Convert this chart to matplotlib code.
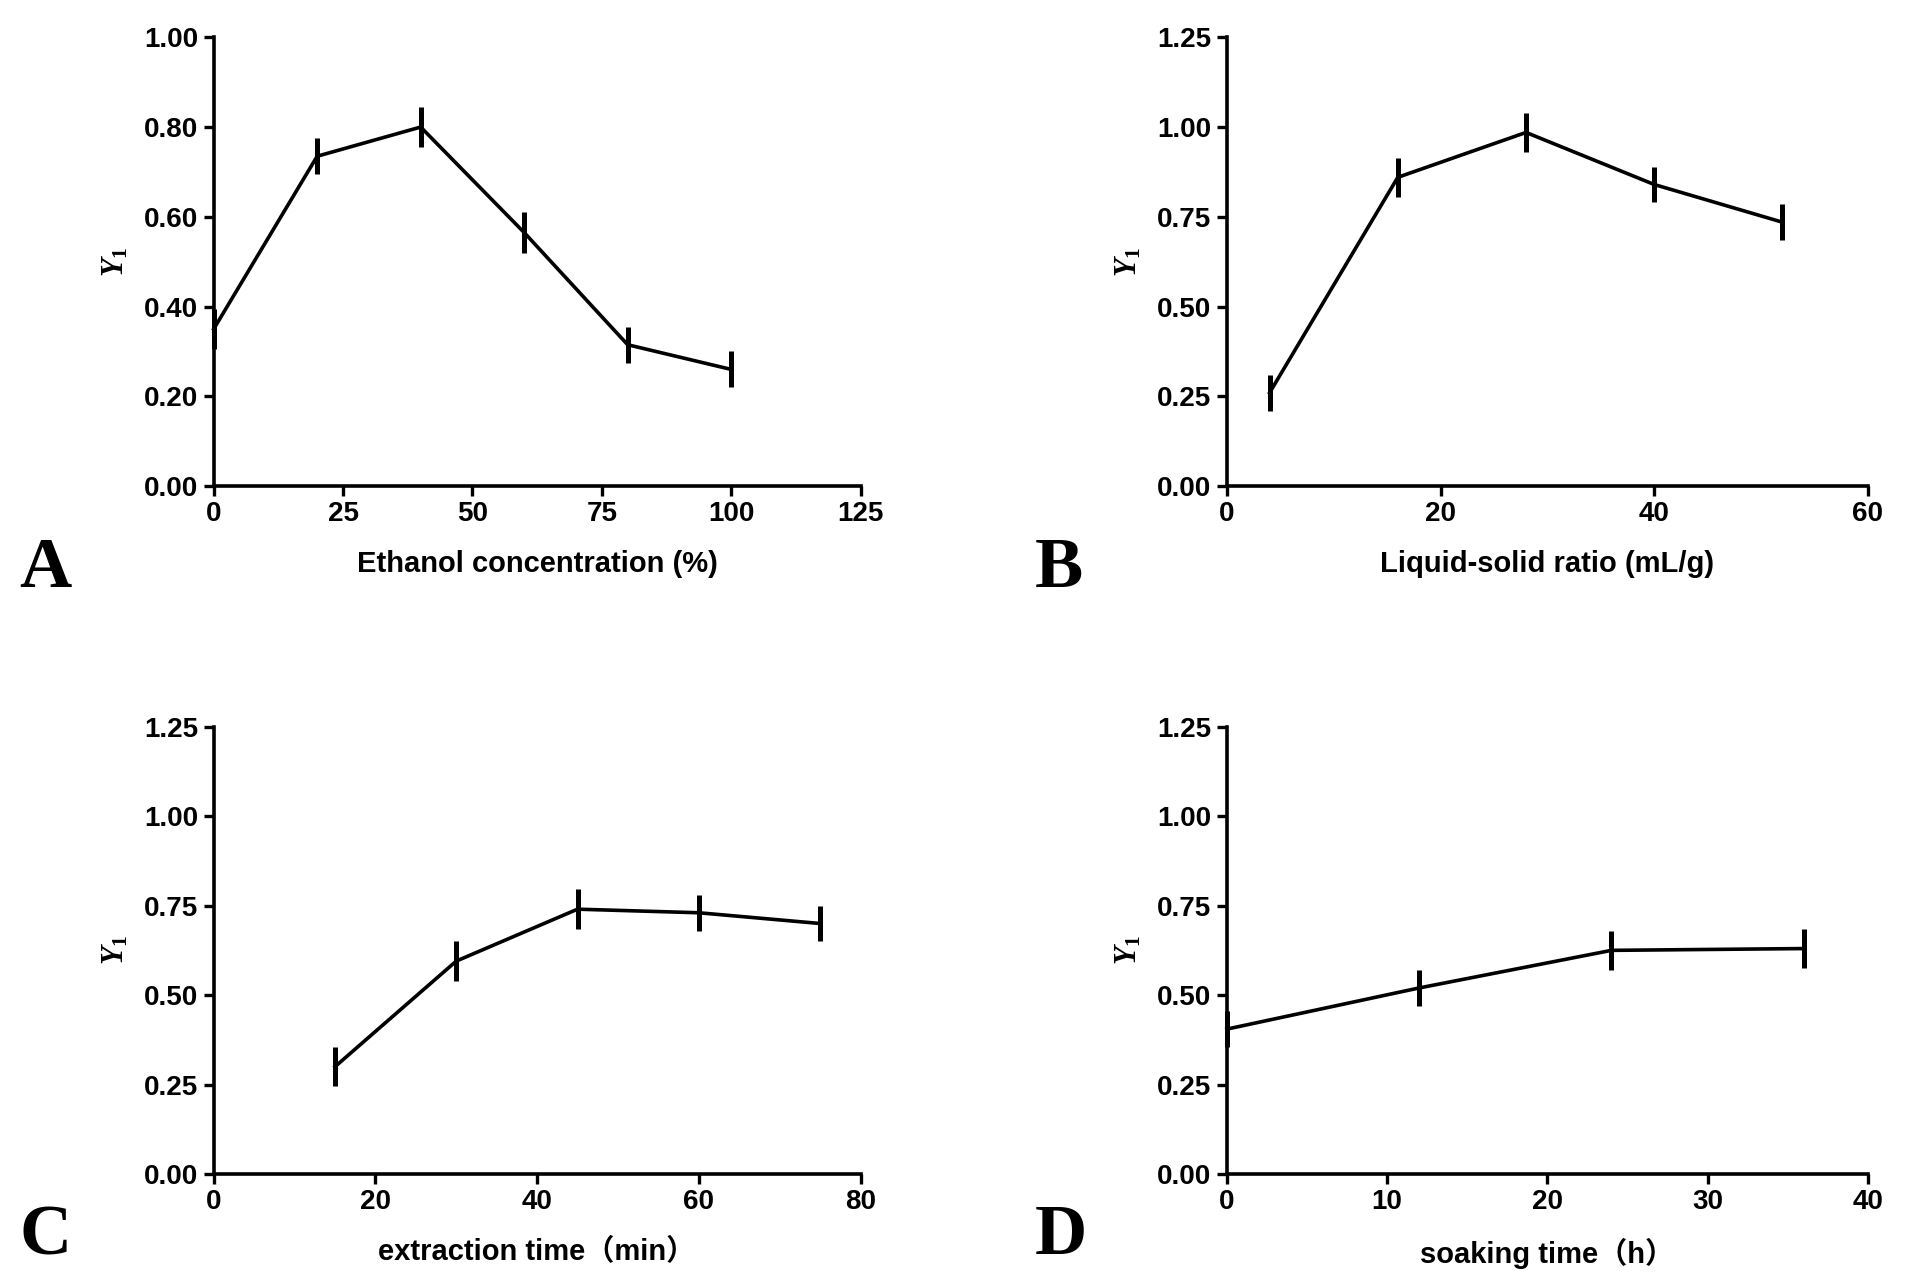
import numpy as np
import matplotlib
matplotlib.use("Agg")
import matplotlib.pyplot as plt

plt.rcParams['font.family'] = ['Liberation Sans Narrow', 'Liberation Sans', 'Noto Sans CJK SC', 'DejaVu Sans']
plt.rcParams['font.weight'] = 'bold'
plt.rcParams['mathtext.fontset'] = 'custom'
plt.rcParams['mathtext.it'] = 'Liberation Serif:italic:bold'
plt.rcParams['mathtext.rm'] = 'Liberation Serif:bold'

# panel A
ethanol_x = [0, 20, 40, 60, 80, 100]
ethanol_y = [0.35, 0.735, 0.80, 0.565, 0.315, 0.26]
ethanol_err = [0.045, 0.04, 0.045, 0.045, 0.04, 0.04]
# panel B
ratio_x = [4, 16, 28, 40, 52]
ratio_y = [0.26, 0.86, 0.985, 0.84, 0.735]
ratio_err = [0.05, 0.055, 0.055, 0.05, 0.05]
# panel C
time_x = [15, 30, 45, 60, 75]
time_y = [0.30, 0.595, 0.74, 0.73, 0.70]
time_err = [0.055, 0.055, 0.055, 0.05, 0.05]
# panel D
soak_x = [0, 12, 24, 36]
soak_y = [0.405, 0.52, 0.625, 0.63]
soak_err = [0.05, 0.05, 0.055, 0.055]

panels = [
    ("A", ethanol_x, ethanol_y, ethanol_err, "Ethanol concentration (%)",
     [0, 25, 50, 75, 100, 125], [0, 0.2, 0.4, 0.6, 0.8, 1.0],
     [0.112, 0.622, 0.339, 0.349], -0.185, 16),
    ("B", ratio_x, ratio_y, ratio_err, "Liquid-solid ratio (mL/g)",
     [0, 20, 40, 60], [0, 0.25, 0.5, 0.75, 1.0, 1.25],
     [0.643, 0.622, 0.336, 0.349], -0.185, 16),
    ("C", time_x, time_y, time_err, "extraction time（min）",
     [0, 20, 40, 60, 80], [0, 0.25, 0.5, 0.75, 1.0, 1.25],
     [0.112, 0.087, 0.339, 0.348], -0.14, 16),
    ("D", soak_x, soak_y, soak_err, "soaking time（h）",
     [0, 10, 20, 30, 40], [0, 0.25, 0.5, 0.75, 1.0, 1.25],
     [0.643, 0.087, 0.336, 0.348], -0.14, 16),
]

fig = plt.figure(figsize=(19.08, 12.86), dpi=100)

for letter, xs, ys, es, xlabel, xt, yt, rect, ly, lpad in panels:
    ax = fig.add_axes(rect)
    ax.plot(xs, ys, color='black', linewidth=2.6, clip_on=False, zorder=3)
    ax.errorbar(xs, ys, yerr=es, fmt='none', ecolor='black', elinewidth=3.6,
                capsize=0, clip_on=False, zorder=3)
    ax.set_xlim(xt[0], xt[-1])
    ax.set_ylim(yt[0], yt[-1])
    ax.set_xticks(xt)
    ax.set_yticks(yt)
    ax.set_yticklabels(["{:.2f}".format(v) for v in yt])
    for s in ['top', 'right']:
        ax.spines[s].set_visible(False)
    for s in ['left', 'bottom']:
        ax.spines[s].set_linewidth(2.6)
    ax.tick_params(axis='both', direction='out', length=7, width=2.4,
                   labelsize=20, pad=4)
    for lab in ax.get_xticklabels() + ax.get_yticklabels():
        lab.set_fontweight('bold')
    ax.set_xlabel(xlabel, fontsize=21, fontweight='bold', labelpad=lpad)
    ax.set_ylabel(r'$\mathit{Y}_{\mathrm{1}}$', fontsize=22, labelpad=10)
    ax.text(-0.30, ly, letter, transform=ax.transAxes, fontsize=52,
            fontweight='bold', family='Liberation Serif', va='center', ha='left')

fig.savefig("out.png", dpi=100, facecolor='white')
